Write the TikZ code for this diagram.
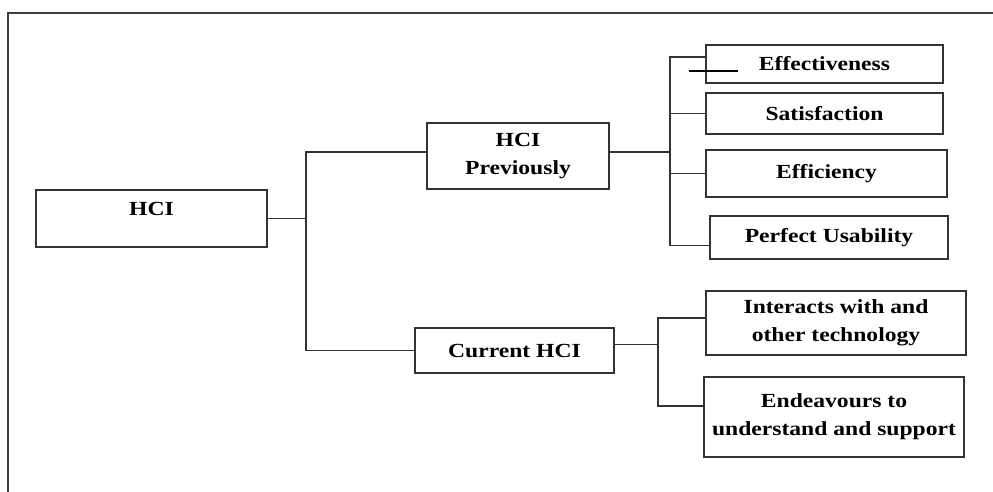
\documentclass[tikz,border=0pt]{standalone}
\usepackage{fontspec}
\setmainfont{Liberation Serif}[FakeStretch=1.18]
\begin{document}
\begin{tikzpicture}[x=1pt,y=-1pt,
  box/.style={draw=black!80,line width=1.7pt,rectangle,inner sep=0pt,align=center,
    font=\fontsize{20}{28}\selectfont\bfseries},
  conn/.style={draw=black!80,line width=1.7pt},
  frame/.style={draw=black!75,line width=1.8pt}]
\useasboundingbox (0,0) rectangle (993,492);
% outer frame (partial)
\draw[frame] (8,492) -- (8,13) -- (993,13);
% boxes
\node[box,minimum width=231pt,minimum height=57pt] (hci) at (151.5,218.5) {};
\node[font=\fontsize{20}{24}\selectfont\bfseries] (hcitxt) at (151.5,209) {HCI};
\node[box,minimum width=182pt,minimum height=66pt] (prev) at (518,156) {HCI\\Previously};
\node[box,minimum width=199pt,minimum height=45pt] (curr) at (514.5,350.5) {Current HCI};
\node[box,minimum width=237pt,minimum height=38pt] (eff) at (824.5,64) {Effectiveness};
\node[box,minimum width=237pt,minimum height=41pt] (sat) at (824.5,113.5) {Satisfaction};
\node[box,minimum width=241pt,minimum height=47pt] (effi) at (826.5,173.5) {Efficiency};
\node[box,minimum width=238pt,minimum height=43pt] (use) at (829,237.5) {Perfect Usability};
\node[box,minimum width=260pt,minimum height=64pt] (inter) at (836,323) {Interacts with and\\other technology};
\node[box,minimum width=260pt,minimum height=80pt] (ende) at (834,417) {Endeavours to\\understand and support};
% bus coordinates
\coordinate (t) at (306,0);
\coordinate (b1) at (670,0);
\coordinate (b2) at (658,0);
\coordinate (prevW) at ([yshift=4pt]prev.west);
\coordinate (prevE) at ([yshift=4pt]prev.east);
\coordinate (effW) at ([yshift=7pt]eff.west);
\coordinate (useW) at ([yshift=-8pt]use.west);
\coordinate (currE) at ([yshift=6pt]curr.east);
\coordinate (interW) at ([yshift=5pt]inter.west);
\coordinate (endeW) at ([yshift=11pt]ende.west);
% HCI level
\draw[conn] (hci.east) -- (hci.east -| t);
\draw[conn] (prevW) -| (t |- curr.west) -- (curr.west);
% previously branch
\draw[conn] (prevE) -- (prevE -| b1);
\draw[conn] (effW) -| (b1 |- useW) -- (useW);
\draw[conn] (sat.west) -- (sat.west -| b1);
\draw[conn] (effi.west) -- (effi.west -| b1);
% current branch
\draw[conn] (currE) -- (currE -| b2);
\draw[conn] (interW) -| (b2 |- endeW) -- (endeW);
% stray mark
\coordinate (s1) at (689,71);
\coordinate (s2) at (738,71);
\draw[line width=1.6pt,black] (s1) -- (s2);
\end{tikzpicture}
\end{document}
